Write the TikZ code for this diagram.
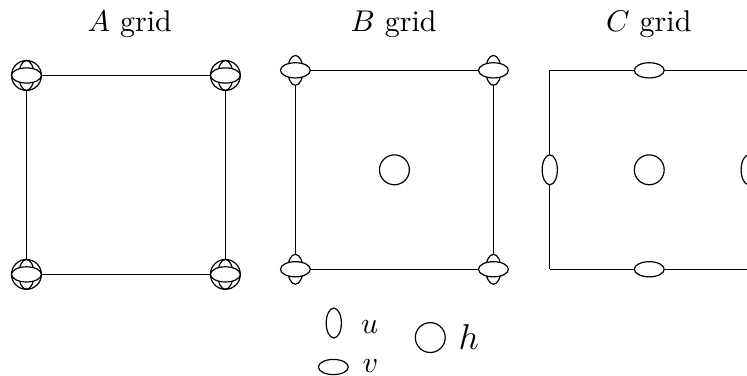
\documentclass[tikz,border=0pt]{standalone}
\usepackage{amssymb}
\usepackage{amsmath}
\usepackage{tikz}
\usetikzlibrary{shapes.geometric,positioning}

\begin{document}
\begin{tikzpicture}[
    node distance=0.1cm,
    hnode/.style={circle, draw, minimum size=0.35cm, inner sep=0pt},
    unode/.style={ellipse, draw, minimum width=0.178cm, minimum height=0.35cm, inner sep=0pt},
    vnode/.style={ellipse, draw, fill=white, minimum width=0.35cm, minimum height=0.178cm, inner sep=0pt}
]
% Arakawa grids A, B, C (square side 2.33cm), legend below
\clip (0,0) rectangle (8.75,4.404);

% Titles
\node[anchor=base] (title-a) at (1.52,4.03) {$A$ grid};
\node[anchor=base] (title-b) at (4.61,4.03) {$B$ grid};
\node[anchor=base] (title-c) at (7.60,4.03) {$C$ grid};

% A grid: u, v, h all at the corners
\foreach \n/\x/\y in {tl/0.31/3.52, tr/2.64/3.52, bl/0.31/1.19, br/2.64/1.19} {
  \node[hnode] (a-h\n) at (\x,\y) {};
  \node[unode] (a-u\n) at (\x,\y) {};
  \node[vnode] (a-v\n) at (\x,\y) {};
}
\draw (a-htl) -- (a-htr);
\draw (a-hbl) -- (a-hbr);
\draw (a-htl) -- (a-hbl);
\draw (a-htr) -- (a-hbr);

% B grid: u, v at the corners, h in the middle
\foreach \n/\x/\y in {tl/3.46/3.58, tr/5.78/3.58, bl/3.46/1.25, br/5.78/1.25} {
  \node[unode] (b-u\n) at (\x,\y) {};
  \node[vnode] (b-v\n) at (\x,\y) {};
}
\node[hnode] (b-h) at (4.62,2.415) {};
\draw (b-vtl) -- (b-vtr);
\draw (b-vbl) -- (b-vbr);
\draw (b-utl) -- (b-ubl);
\draw (b-utr) -- (b-ubr);

% C grid: u on the vertical edges, v on the horizontal edges, h in the middle
\coordinate (c-tl) at (6.44,3.58);
\coordinate (c-tr) at (8.77,3.58);
\coordinate (c-bl) at (6.44,1.25);
\coordinate (c-br) at (8.77,1.25);
\node[vnode] (c-vt) at (7.605,3.58) {};
\node[vnode] (c-vb) at (7.605,1.25) {};
\node[unode] (c-ul) at (6.44,2.415) {};
\node[unode] (c-ur) at (8.77,2.415) {};
\node[hnode] (c-h)  at (7.605,2.415) {};
\draw (c-tl) -- (c-vt) -- (c-tr);
\draw (c-bl) -- (c-vb) -- (c-br);
\draw (c-tl) -- (c-ul) -- (c-bl);
\draw (c-tr) -- (c-ur) -- (c-br);

% Legend
\node[unode] (leg-u) at (3.91,0.62) {};
\node[anchor=base] (lbl-u) at (4.33,0.50) {$u$};
\node[vnode] (leg-v) at (3.905,0.105) {};
\node[anchor=base] (lbl-v) at (4.34,0.04) {$v$};
\node[hnode] (leg-h) at (5.04,0.45) {};
\node[anchor=base, font=\large] (lbl-h) at (5.49,0.305) {$h$};
\end{tikzpicture}
\end{document}
